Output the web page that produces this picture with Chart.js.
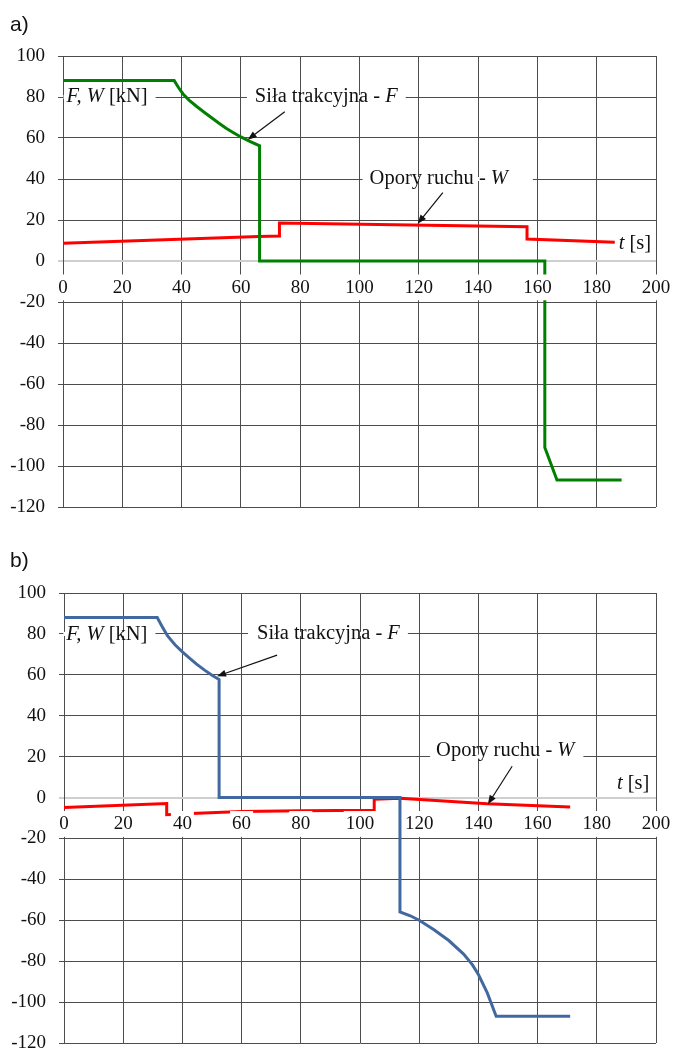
<!DOCTYPE html>
<html>
<head>
<meta charset="utf-8">
<script src="https://cdn.jsdelivr.net/npm/chart.js@4.4.1/dist/chart.umd.min.js"></script>
<style>
  html, body { margin: 0; padding: 0; background: #fff; overflow: hidden; }
  body { width: 673px; height: 1048px; position: relative; }
  .panel { position: absolute; left: 0; width: 673px; }
  .tag { position: absolute; left: 10px; font-family: "Liberation Sans", Arial, sans-serif; font-size: 21px; line-height: 1; color: #111; }
</style>
</head>
<body>
<div class="panel" style="top:0;height:520px"><canvas id="chartA"></canvas></div>
<div class="panel" style="top:520px;height:540px"><canvas id="chartB"></canvas></div>
<div class="tag" style="top:13px">a)</div>
<div class="tag" style="top:549px">b)</div>

<script>
// osie
const xTicks = [0, 20, 40, 60, 80, 100, 120, 140, 160, 180, 200];
const yTicks = [-120, -100, -80, -60, -40, -20, 0, 20, 40, 60, 80, 100];

// a) siła trakcyjna F i opory ruchu W [kN] w funkcji czasu t [s]
const tA_F = [0, 37.5, 39, 40.5, 42.5, 45, 47.5, 50, 52.5, 55, 57.5, 60, 63, 66.3, 66.3, 162.5, 162.5, 166.6, 188.4];
const F_A  = [88, 88, 84.5, 81.5, 78.5, 75.5, 72.7, 70, 67.3, 64.8, 62.6, 60.5, 58.4, 56.2, 0, 0, -91, -106.8, -106.8];
const tA_W = [0, 66, 73, 73, 156.5, 156.5, 186.1];
const W_A  = [8.6, 12, 12.2, 18.5, 16.7, 10.7, 9.1];

// b)
const tB_F = [0, 31.5, 33, 35, 37.5, 40, 42.5, 45, 47.5, 50, 52.4, 52.4, 113.5, 113.5, 117, 120, 125, 130, 135, 138, 140, 143, 146, 171];
const F_B  = [88, 88, 84, 79, 74.7, 71.2, 68, 65, 62.3, 59.8, 57.7, 0, 0, -55.9, -57.8, -60, -64.6, -69.9, -76.5, -81.8, -86.5, -95.5, -106.9, -106.9];
const tB_W = [0, 34.7, 34.7, 43, 60, 80, 104.8, 104.8, 113.5, 143, 171];
const W_B  = [-4.9, -2.9, -8.4, -7.8, -6.8, -6.5, -6.2, -0.8, -0.3, -3.0, -4.6];

const serif = '"Liberation Serif", "Times New Roman", serif';

// opisy na wykresie (pozycje w jednostkach osi)
const notesA = [
  { t: 1.2, v: 80, mask: 80, padL: 3, padR: 8, parts: [['F, W', true], [' [kN]', false]] },
  { t: 64.7, v: 80, mask: 80, padL: 8, padR: 8, parts: [['Siła trakcyjna - ', false], ['F', true]], arrow: [74.8, 72.8, 62.3, 59.2] },
  { t: 103.4, v: 40, mask: 40, padL: 7, padR: 25, parts: [['Opory ruchu - ', false], ['W', true]], arrow: [128.1, 33.3, 119.6, 18.2] },
  { t: 187.4, v: 8.4, parts: [['t', true], [' [s]', false]] }
];
const notesB = [
  { t: 0.8, v: 79.5, mask: 80, padL: 3, padR: 8, parts: [['F, W', true], [' [kN]', false]] },
  { t: 65.2, v: 80, mask: 80, padL: 9, padR: 8, parts: [['Siła trakcyjna - ', false], ['F', true]], arrow: [72, 69.6, 51.7, 59.3] },
  { t: 125.7, v: 23.1, mask: 20, padL: 6, padR: 9, parts: [['Opory ruchu - ', false], ['W', true]], arrow: [151.4, 15.3, 143.2, -3.3] },
  { t: 186.8, v: 7.0, parts: [['t', true], [' [s]', false]] }
];

function notesPlugin(items) {
  const fontOf = it => (it ? 'italic ' : '') + '20.5px ' + serif;
  return {
    id: 'notes',
    beforeDatasetsDraw(chart) {
      const { ctx, scales: { x, y } } = chart;
      ctx.save();
      items.forEach(n => {
        let px = x.getPixelForValue(n.t);
        const py = y.getPixelForValue(n.v);
        let w = 0;
        n.parts.forEach(p => { ctx.font = fontOf(p[1]); w += ctx.measureText(p[0]).width; });
        if (n.mask !== undefined) {
          const my = y.getPixelForValue(n.mask);
          ctx.fillStyle = '#fff';
          ctx.fillRect(px - n.padL, my - 2, w + n.padL + n.padR, 4);
        }
        ctx.fillStyle = '#111';
        ctx.textBaseline = 'middle';
        n.parts.forEach(p => {
          ctx.font = fontOf(p[1]);
          ctx.fillText(p[0], px, py);
          px += ctx.measureText(p[0]).width;
        });
      });
      ctx.restore();
    },
    afterDatasetsDraw(chart) {
      const { ctx, scales: { x, y } } = chart;
      ctx.save();
      ctx.strokeStyle = '#111';
      ctx.fillStyle = '#111';
      ctx.lineWidth = 1.2;
      items.filter(n => n.arrow).forEach(n => {
        const x1 = x.getPixelForValue(n.arrow[0]), y1 = y.getPixelForValue(n.arrow[1]);
        const x2 = x.getPixelForValue(n.arrow[2]), y2 = y.getPixelForValue(n.arrow[3]);
        const a = Math.atan2(y2 - y1, x2 - x1);
        ctx.beginPath();
        ctx.moveTo(x1, y1);
        ctx.lineTo(x2 - 6 * Math.cos(a), y2 - 6 * Math.sin(a));
        ctx.stroke();
        ctx.beginPath();
        ctx.moveTo(x2, y2);
        ctx.lineTo(x2 - 9 * Math.cos(a) + 3.5 * Math.sin(a), y2 - 9 * Math.sin(a) - 3.5 * Math.cos(a));
        ctx.lineTo(x2 - 9 * Math.cos(a) - 3.5 * Math.sin(a), y2 - 9 * Math.sin(a) + 3.5 * Math.cos(a));
        ctx.closePath();
        ctx.fill();
      });
      ctx.restore();
    }
  };
}

// skale nie doliczają marginesów od etykiet - obszar wykresu ustawiony paddingiem
function noPadding(s) {
  s.paddingLeft = 0; s.paddingRight = 0; s.paddingTop = 0; s.paddingBottom = 0;
}

function makeChart(id, tF, vF, colF, tW, vW, notes, pad, axisW) {
  const xy = (ts, vs) => ts.map((t, i) => ({ x: t, y: vs[i] }));
  return new Chart(document.getElementById(id), {
    type: 'line',
    data: {
      datasets: [
        { data: xy(tF, vF), borderColor: colF, borderWidth: 3, order: 0 },
        { data: xy(tW, vW), borderColor: '#ff0000', borderWidth: 3, order: 1 }
      ]
    },
    options: {
      responsive: true,
      maintainAspectRatio: false,
      animation: false,
      elements: {
        point: { radius: 0 },
        line: { tension: 0, borderJoinStyle: 'miter', fill: false }
      },
      plugins: { legend: { display: false }, tooltip: { enabled: false } },
      layout: { padding: pad },
      scales: {
        x: {
          type: 'linear',
          min: 0, max: 200,
          position: { y: 0 },
          afterBuildTicks: s => { s.ticks = xTicks.map(v => ({ value: v })); },
          afterFit: noPadding,
          grid: { color: '#4d4d4d', lineWidth: 1, drawTicks: false },
          border: { display: false },
          ticks: {
            z: 1,
            padding: 15.5,
            color: '#111',
            maxRotation: 0,
            autoSkip: false,
            font: { family: serif, size: 19, lineHeight: 1.2 },
            showLabelBackdrop: true,
            backdropColor: '#fff',
            backdropPadding: { top: 2, bottom: 1, left: 2, right: 2 }
          }
        },
        y: {
          type: 'linear',
          min: -120, max: 100,
          afterBuildTicks: s => { s.ticks = yTicks.map(v => ({ value: v })); },
          afterFit: s => { s.width = axisW; noPadding(s); },
          grid: {
            color: c => (c.tick && c.tick.value === 0 ? '#cfcfcf' : '#4d4d4d'),
            lineWidth: c => (c.tick && c.tick.value === 0 ? 2 : 1),
            tickLength: 5
          },
          border: { display: true, color: '#4d4d4d' },
          ticks: {
            padding: 13,
            color: '#111',
            autoSkip: false,
            font: { family: serif, size: 19, lineHeight: 1.2 }
          }
        }
      }
    },
    plugins: [notesPlugin(notes)]
  });
}

makeChart('chartA', tA_F, F_A, '#008000', tA_W, W_A, notesA, { top: 56, right: 17, bottom: 13, left: 0 }, 63);
makeChart('chartB', tB_F, F_B, '#42699f', tB_W, W_B, notesB, { top: 73, right: 17, bottom: 17, left: 0 }, 64);
</script>
</body>
</html>
